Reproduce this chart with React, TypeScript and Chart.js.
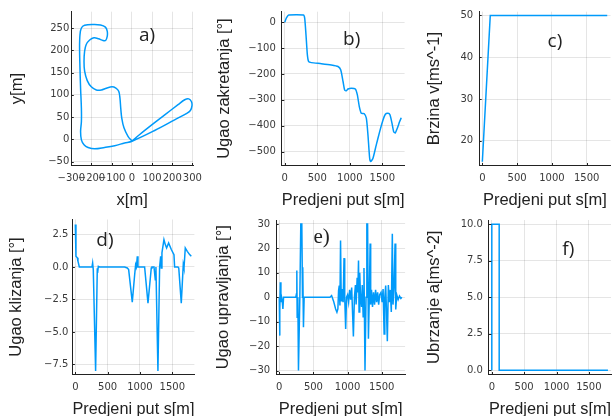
import React, { useEffect, useRef } from "react";
import { Chart, registerables } from "chart.js";

Chart.register(...registerables);

// ---------------- data ----------------
const S_TICKS = [0, 500, 1000, 1500];
const S_RANGE = [-45, 1842];

const A_X_TICKS = [-300, -200, -100, 0, 100, 200, 300];
const A_Y_TICKS = [-50, 0, 50, 100, 150, 200, 250];
// track (x, y) in metres
const A_TRACK = [
  [1, -4], [-19, 7], [-39, 26], [-50, 48], [-55, 70], [-59, 93], [-65, 108], [-79, 115], [-98, 118],
  [-126, 115], [-151, 111], [-176, 111], [-201, 118], [-221, 132], [-234, 153], [-237, 175], [-234, 198],
  [-226, 213], [-209, 223], [-188, 228], [-165, 226], [-143, 222], [-130, 222], [-122, 231], [-122, 243],
  [-131, 252], [-155, 257], [-193, 258], [-234, 256], [-250, 250], [-257, 235], [-259, 205], [-257, 160],
  [-254, 115], [-250, 70], [-250, 40], [-254, 18], [-250, -1], [-237, -12], [-217, -18], [-184, -21],
  [-135, -18], [-85, -14], [-36, -8], [1, -4], [113, 20], [212, 44], [270, 58], [290, 65], [298, 76],
  [295, 85], [282, 91], [262, 89], [229, 78], [163, 55], [97, 32], [39, 11], [1, -4],
];

const B_Y_TICKS = [-500, -400, -300, -200, -100, 0];
const B_ANGLE = [
  [0, 0], [26, 17], [61, 28], [287, 28], [307, 15], [327, -49], [348, -126], [368, -152], [409, -156],
  [563, -160], [716, -165], [819, -171], [860, -184], [896, -229], [921, -262], [947, -265], [972, -258],
  [1024, -255], [1085, -258], [1116, -281], [1146, -326], [1177, -352], [1218, -353], [1254, -371],
  [1279, -436], [1305, -526], [1320, -539], [1356, -526], [1407, -474], [1459, -423], [1510, -378],
  [1546, -356], [1587, -352], [1617, -358], [1648, -390], [1674, -423], [1699, -428], [1730, -410],
  [1766, -384], [1791, -369],
];

const C_Y_TICKS = [20, 30, 40, 50];
const C_SPEED = [[0, 15], [114, 50], [1795, 50]];

const D_Y_TICKS = [-7.5, -5, -2.5, 0, 2.5];
const D_SLIP = [
  [0, 3.26], [10, 0.82], [31, 0.7], [41, 0.44], [62, 0], [258, 0], [268, 0.3], [278, -0.2], [314, -8.0],
  [340, -0.1], [345, -0.46], [356, 0.05], [376, 0], [763, 0], [804, -0.08], [825, -0.2], [881, -2.7],
  [918, -0.6], [933, 0.18], [945, 0], [959, 0.82], [969, 0], [1072, 0], [1124, -2.78], [1175, -0.08],
  [1186, 0], [1217, 0], [1237, -0.98], [1247, 0], [1278, -8.0], [1304, 0], [1320, 0.82], [1330, -0.08],
  [1340, 1.08], [1371, 2.1], [1392, 1.72], [1412, 1.46], [1443, 1.85], [1485, 1.34], [1526, 0.95],
  [1536, 0], [1588, 0], [1600, -0.08], [1639, -2.78], [1670, 0.18], [1681, -0.08], [1701, 1.46],
  [1732, 1.2], [1768, 0.95], [1794, 0.82],
];

const E_Y_TICKS = [-30, -20, -10, 0, 10, 20, 30];
const E_STEER = [
  [0, 0], [5, -15.7], [10, -5.5], [15, 6.1], [24, -2], [34, 0], [44, -1.6], [53, -4.8], [63, 0],
  [242, 0], [252, 1.4], [257, 10.9], [262, -8.2], [272, 0], [281, -30], [301, 0], [315, 30], [330, 30],
  [340, 0], [344, 12.3], [354, -12.3], [364, 0],
  [742, 0], [766, 0.7], [795, -1.6], [825, -4.8], [844, -6.1], [858, -4.8], [868, 2.7], [878, 4.8],
  [888, -3.4], [897, 23.2], [907, -1.4], [917, 3.4], [935, -2], [948, 16], [958, 0], [972, -13], [985, 0],
  [1000, 1], [1015, -2], [1030, 3], [1045, -1], [1060, 4], [1075, -8], [1085, -16], [1100, 0], [1115, 5],
  [1125, -3], [1140, 8], [1150, 2], [1160, 15], [1168, -6], [1178, 10], [1190, 0], [1205, -4], [1215, 5],
  [1228, -8], [1240, 12], [1255, -30], [1270, 0], [1282, 30], [1293, 30], [1305, -17], [1318, 0],
  [1330, 22], [1338, -3], [1350, 3], [1365, -4], [1380, 2], [1395, -3], [1410, 3], [1425, -2], [1440, 2],
  [1455, -3], [1470, 1], [1490, 2], [1505, -2], [1520, 3.4], [1535, -15], [1545, 0], [1558, 4.8],
  [1570, -6], [1582, -18], [1597, 5], [1610, -2], [1625, 3], [1640, -6], [1655, 26], [1665, -3],
  [1680, 4], [1695, 22], [1705, -5], [1720, 1], [1740, -1], [1760, 0.5], [1780, -0.5], [1795, 0],
];

const F_Y_TICKS = [0, 2.5, 5, 7.5, 10];
const F_ACCEL = [[0, 0], [0, 10], [114, 10], [114, 0], [1795, 0]];

// ---------------- styles ----------------
const LINE_COLOR = "#009AFA";
const GRID_COLOR = "rgba(0,0,0,0.1)";
const AXIS_COLOR = "#222";
const TICK_COLOR = "#3a3a3a";
const TITLE_COLOR = "#222";
const TITLE_SIZE = 16.5;
const LH = TITLE_SIZE * 1.2;
const TITLE_FONT = { family: "'Liberation Sans', Arial, sans-serif", size: TITLE_SIZE };
const TICK_FONT = { family: "'DejaVu Sans', sans-serif", size: 10 };
const S_TITLE = "Predjeni put s[m]";

type Spec = {
  id: string;
  data: number[][];
  xr: number[];
  yr: number[];
  xt: number[];
  yt: number[];
  dec: number;
  xTitle: string;
  yTitle: string;
  label: string;
  labelAt: number[];
  labelFont: string;
  plot: { L: number; T: number; R: number; B: number };
  yTitleX: number;
  xTitleY: number;
  yPad: number;
  xPad: number;
  tension: number;
};

const SANS_LABEL = "19px 'Open Sans', sans-serif";

const PANELS: Spec[] = [
  {
    id: "a", data: A_TRACK, xr: [-300, 303], yr: [-58.5, 286.6], xt: A_X_TICKS, yt: A_Y_TICKS, dec: 0,
    xTitle: "x[m]", yTitle: "y[m]", label: "a)", labelAt: [75, 232], labelFont: SANS_LABEL,
    plot: { L: 71.3, T: 11.7, R: 193, B: 165.5 }, yTitleX: 17.3, xTitleY: 200, yPad: 2, xPad: 7, tension: 0.35,
  },
  {
    id: "b", data: B_ANGLE, xr: S_RANGE, yr: [-554, 41], xt: S_TICKS, yt: B_Y_TICKS, dec: 0,
    xTitle: S_TITLE, yTitle: "Ugao zakretanja [°]", label: "b)", labelAt: [1029, -65], labelFont: SANS_LABEL,
    plot: { L: 281.8, T: 11.7, R: 404.6, B: 165.5 }, yTitleX: 224.3, xTitleY: 200, yPad: 6, xPad: 7, tension: 0.2,
  },
  {
    id: "c", data: C_SPEED, xr: S_RANGE, yr: [14.1, 50.9], xt: S_TICKS, yt: C_Y_TICKS, dec: 0,
    xTitle: S_TITLE, yTitle: "Brzina v[ms^-1]", label: "c)", labelAt: [1044, 43.8], labelFont: SANS_LABEL,
    plot: { L: 479.2, T: 11.7, R: 610.5, B: 165.5 }, yTitleX: 434.4, xTitleY: 200, yPad: 6, xPad: 7, tension: 0,
  },
  {
    id: "d", data: D_SLIP, xr: S_RANGE, yr: [-8.27, 3.65], xt: S_TICKS, yt: D_Y_TICKS, dec: 1,
    xTitle: S_TITLE, yTitle: "Ugao klizanja [°]", label: "d)", labelAt: [459, 2.0], labelFont: SANS_LABEL,
    plot: { L: 72.4, T: 219.5, R: 194.4, B: 374.5 }, yTitleX: 16.2, xTitleY: 409, yPad: 4, xPad: 6.5, tension: 0,
  },
  {
    id: "e", data: E_STEER, xr: S_RANGE, yr: [-31.6, 31.6], xt: S_TICKS, yt: E_Y_TICKS, dec: 0,
    xTitle: S_TITLE, yTitle: "Ugao upravljanja [°]", label: "e)", labelAt: [621, 24.4],
    labelFont: "21px 'Liberation Serif', serif",
    plot: { L: 276.2, T: 220, R: 405.1, B: 374.5 }, yTitleX: 223.5, xTitleY: 409, yPad: 6, xPad: 6.5, tension: 0,
  },
  {
    id: "f", data: F_ACCEL, xr: S_RANGE, yr: [-0.3, 10.3], xt: S_TICKS, yt: F_Y_TICKS, dec: 1,
    xTitle: S_TITLE, yTitle: "Ubrzanje a[ms^-2]", label: "f)", labelAt: [1182, 8.3], labelFont: SANS_LABEL,
    plot: { L: 488.9, T: 220, R: 611, B: 374.5 }, yTitleX: 434.4, xTitleY: 409, yPad: 6, xPad: 6.5, tension: 0,
  },
];

function fmt(v: number, dec: number) {
  return Number(v).toFixed(dec).replace("-", "\u2212");
}

function geom(s: Spec) {
  const { L, T, R, B } = s.plot;
  const cLeft = Math.floor(s.yTitleX - LH / 2 - 2);
  const cTop = Math.floor(T - 16);
  const cRight = Math.ceil(R + 20);
  const cBottom = Math.ceil(s.xTitleY + LH / 2 + 2);
  const W = cRight - cLeft;
  const H = cBottom - cTop;
  const padLeft = s.yTitleX - LH / 2 - cLeft;
  const padTop = T - cTop;
  const padRight = cRight - R;
  const padBottom = cBottom - (s.xTitleY + LH / 2);
  const yWidth = L - cLeft - padLeft;
  const xHeight = H - padBottom - (B - cTop);
  return { cLeft, cTop, W, H, padLeft, padTop, padRight, padBottom, yWidth, xHeight };
}

function decorPlugin(s: Spec) {
  return {
    id: "decor_" + s.id,
    afterDraw(chart: any) {
      const { ctx, chartArea, scales } = chart;
      const xs = scales.x;
      const ys = scales.y;
      ctx.save();
      ctx.strokeStyle = AXIS_COLOR;
      ctx.lineWidth = 1;
      ctx.beginPath();
      xs.ticks.forEach((t: any) => {
        const px = Math.round(xs.getPixelForValue(t.value)) + 0.5;
        ctx.moveTo(px, chartArea.bottom);
        ctx.lineTo(px, chartArea.bottom - 2.5);
      });
      ys.ticks.forEach((t: any) => {
        const py = Math.round(ys.getPixelForValue(t.value)) + 0.5;
        ctx.moveTo(chartArea.left, py);
        ctx.lineTo(chartArea.left + 2.5, py);
      });
      ctx.stroke();
      ctx.font = s.labelFont;
      ctx.fillStyle = "#222";
      ctx.textAlign = "center";
      ctx.textBaseline = "middle";
      ctx.fillText(s.label, xs.getPixelForValue(s.labelAt[0]), ys.getPixelForValue(s.labelAt[1]));
      ctx.restore();
    },
  };
}

function Panel({ spec }: { spec: Spec }) {
  const ref = useRef<HTMLCanvasElement>(null);
  const g = geom(spec);
  useEffect(() => {
    const chart = new Chart(ref.current as HTMLCanvasElement, {
      type: "scatter",
      data: {
        datasets: [
          {
            data: spec.data.map(([x, y]) => ({ x, y })),
            showLine: true,
            borderColor: LINE_COLOR,
            backgroundColor: LINE_COLOR,
            borderWidth: 1.5,
            pointRadius: 0,
            tension: spec.tension,
            fill: false,
          } as any,
        ],
      },
      options: {
        responsive: false,
        animation: false,
        devicePixelRatio: 1,
        events: [],
        layout: { padding: { left: g.padLeft, top: g.padTop, right: g.padRight, bottom: g.padBottom } },
        plugins: { legend: { display: false }, tooltip: { enabled: false } },
        scales: {
          x: {
            type: "linear",
            position: "bottom",
            min: spec.xr[0],
            max: spec.xr[1],
            afterBuildTicks: (sc: any) => {
              sc.ticks = spec.xt.map((v) => ({ value: v }));
            },
            afterFit: (sc: any) => {
              sc.height = g.xHeight;
            },
            ticks: {
              autoSkip: false,
              maxRotation: 0,
              minRotation: 0,
              padding: spec.xPad,
              font: TICK_FONT,
              color: TICK_COLOR,
              callback: (v: any) => fmt(v, 0),
            },
            grid: { color: GRID_COLOR, drawTicks: false, lineWidth: 1 },
            border: { color: AXIS_COLOR, width: 1 },
            title: { display: true, text: spec.xTitle, font: TITLE_FONT, color: TITLE_COLOR, padding: 0 },
          },
          y: {
            type: "linear",
            position: "left",
            min: spec.yr[0],
            max: spec.yr[1],
            afterBuildTicks: (sc: any) => {
              sc.ticks = spec.yt.map((v) => ({ value: v }));
            },
            afterFit: (sc: any) => {
              sc.width = g.yWidth;
            },
            ticks: {
              autoSkip: false,
              padding: spec.yPad,
              font: TICK_FONT,
              color: TICK_COLOR,
              callback: (v: any) => fmt(v, spec.dec),
            },
            grid: { color: GRID_COLOR, drawTicks: false, lineWidth: 1 },
            border: { color: AXIS_COLOR, width: 1 },
            title: { display: true, text: spec.yTitle, font: TITLE_FONT, color: TITLE_COLOR, padding: 0 },
          },
        },
      } as any,
      plugins: [decorPlugin(spec)],
    });
    return () => chart.destroy();
  }, []);
  return (
    <canvas
      ref={ref}
      width={g.W}
      height={g.H}
      style={{ position: "absolute", left: g.cLeft, top: g.cTop, width: g.W, height: g.H }}
    />
  );
}

export default function App() {
  return (
    <div
      style={{
        position: "absolute",
        left: 0,
        top: 0,
        width: 612,
        height: 416,
        overflow: "hidden",
        background: "#fff",
      }}
    >
      {PANELS.map((p) => (
        <Panel key={p.id} spec={p} />
      ))}
    </div>
  );
}
